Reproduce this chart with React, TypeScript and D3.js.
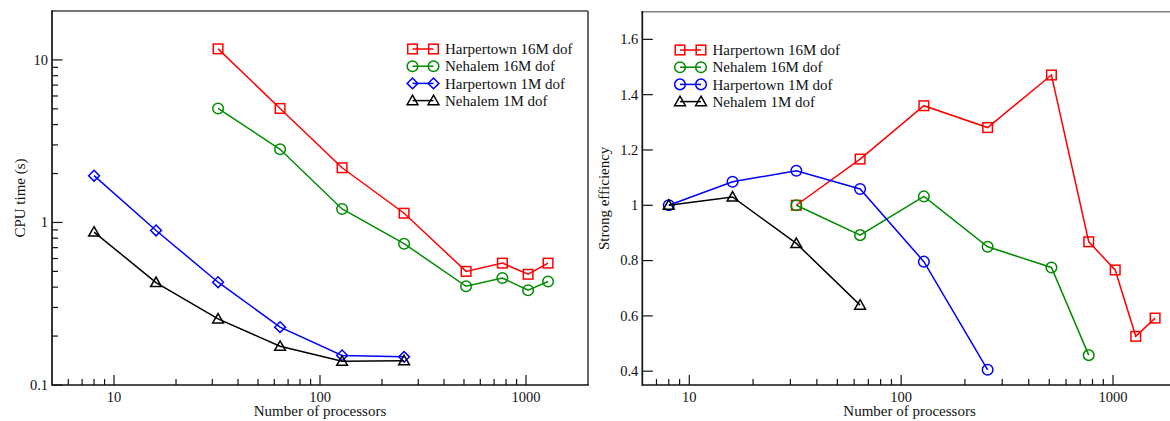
import React from "react";
import * as d3 from "d3";

// ---------- data ----------
const procs16M = [32, 64, 128, 256, 512, 768, 1024, 1280];
const timeHarp16M = [11.7, 5.03, 2.17, 1.14, 0.5, 0.562, 0.48, 0.562];
const timeNeh16M = [5.03, 2.82, 1.21, 0.74, 0.405, 0.455, 0.383, 0.433];
const procs1M = [8, 16, 32, 64, 128, 256];
const timeHarp1M = [1.94, 0.893, 0.429, 0.227, 0.152, 0.149];
const timeNeh1M = [0.873, 0.427, 0.255, 0.173, 0.14, 0.141];

const procsEffHarp16M = [32, 64, 128, 256, 512, 768, 1024, 1280, 1580];
const effHarp16M = [1.0, 1.167, 1.36, 1.281, 1.471, 0.868, 0.766, 0.526, 0.592];
const procsEffNeh16M = [32, 64, 128, 256, 512, 768];
const effNeh16M = [1.0, 0.892, 1.032, 0.85, 0.775, 0.458];
const procsEffHarp1M = [8, 16, 32, 64, 128, 256];
const effHarp1M = [1.0, 1.085, 1.125, 1.059, 0.796, 0.405];
const procsEffNeh1M = [8, 16, 32, 64];
const effNeh1M = [1.0, 1.03, 0.862, 0.639];

const seriesNames = ["Harpertown 16M dof", "Nehalem 16M dof", "Harpertown 1M dof", "Nehalem 1M dof"];
const seriesColors = ["#ff0000", "#008b00", "#0000ff", "#000000"];
const leftMarkers = ["square", "circle", "diamond", "triangle"];
const rightMarkers = ["square", "circle", "circle", "triangle"];

const xMajorTicks = [10, 100, 1000];
const leftYMajor = [0.1, 1, 10];
const leftYLabels = ["0.1", "1", "10"];
const rightYMajor = [0.4, 0.6, 0.8, 1.0, 1.2, 1.4, 1.6];
const rightYLabels = ["0.4", "0.6", "0.8", "1", "1.2", "1.4", "1.6"];

const FONT = "'Liberation Serif', 'Times New Roman', serif";

function Marker({ type, x, y, color }: { type: string; x: number; y: number; color: string }) {
  const sw = 1.5;
  if (type === "square") {
    const h = 4.8;
    return <rect x={x - h} y={y - h} width={2 * h} height={2 * h} fill="none" stroke={color} strokeWidth={sw} />;
  }
  if (type === "circle") {
    return <circle cx={x} cy={y} r={5.3} fill="none" stroke={color} strokeWidth={sw} />;
  }
  if (type === "diamond") {
    const h = 5.4;
    return (
      <path d={`M${x},${y - h}L${x + h},${y}L${x},${y + h}L${x - h},${y}Z`} fill="none" stroke={color} strokeWidth={sw} />
    );
  }
  const h = 5.4;
  return (
    <path
      d={`M${x},${y - h}L${x + h},${y + h * 0.75}L${x - h},${y + h * 0.75}Z`}
      fill="none"
      stroke={color}
      strokeWidth={sw}
    />
  );
}

function minorLogTicks(lo: number, hi: number) {
  const out: number[] = [];
  for (let dec = 1; dec <= 10000; dec *= 10) {
    for (let m = 1; m <= 9; m++) {
      const v = m * dec * 0.1;
      if (v > lo * 1.0001 && v < hi * 0.9999) out.push(v);
    }
  }
  return out;
}

type Series = { xs: number[]; ys: number[]; color: string; marker: string };

function Panel({
  x0, x1, y0, y1, xScale, yScale, yMajor, yLabels, yMinor, series, yTitle, yTitleX, legendX, legendY, frameColor,
}: any) {
  const line = d3
    .line<[number, number]>()
    .x((d) => xScale(d[0]))
    .y((d) => yScale(d[1]));
  const [xlo, xhi] = xScale.domain();
  const xMinor = minorLogTicks(xlo, xhi).filter((v: number) => !xMajorTicks.includes(v));
  const clipId = `clip${Math.round(x0)}`;
  return (
    <g>
      <defs>
        <clipPath id={clipId}>
          <rect x={x0} y={y0} width={x1 - x0} height={y1 - y0} />
        </clipPath>
      </defs>
      {/* frame */}
      <line x1={x0} y1={y0} x2={x1} y2={y0} stroke={frameColor} strokeWidth={1.6} />
      <line x1={x1} y1={y0} x2={x1} y2={y1} stroke={frameColor} strokeWidth={1.6} />
      <line x1={x0} y1={y1} x2={x1 + 0.8} y2={y1} stroke="#111" strokeWidth={1.7} />
      <line x1={x0} y1={y0 - 0.8} x2={x0} y2={y1 + 0.8} stroke="#111" strokeWidth={1.7} />
      {/* x ticks */}
      {xMajorTicks.map((t) => (
        <g key={"xm" + t}>
          <line x1={xScale(t)} x2={xScale(t)} y1={y1} y2={y1 - 10} stroke="#111" strokeWidth={1.2} />
          <text x={xScale(t)} y={y1 + 16.5} textAnchor="middle" fontFamily={FONT} fontSize={14.5} fill="#111">
            {t}
          </text>
        </g>
      ))}
      {xMinor.map((t: number) => (
        <line key={"xn" + t} x1={xScale(t)} x2={xScale(t)} y1={y1} y2={y1 - 6} stroke="#111" strokeWidth={1.2} />
      ))}
      {/* y ticks */}
      {yMajor.map((t: number, i: number) => (
        <g key={"ym" + t}>
          <line x1={x0} x2={x0 + 10.5} y1={yScale(t)} y2={yScale(t)} stroke="#111" strokeWidth={1.2} />
          <text
            x={x0 - 4}
            y={yScale(t)}
            dy="0.34em"
            textAnchor="end"
            fontFamily={FONT}
            fontSize={14.5}
            fill="#111"
          >
            {yLabels[i]}
          </text>
        </g>
      ))}
      {yMinor.map((t: number) => (
        <line key={"yn" + t} x1={x0} x2={x0 + 6} y1={yScale(t)} y2={yScale(t)} stroke="#111" strokeWidth={1.2} />
      ))}
      {/* titles */}
      <text
        x={(x0 + Math.min(x1, 1177)) / 2}
        y={416}
        textAnchor="middle"
        fontFamily={FONT}
        fontSize={15}
        fill="#111"
      >
        Number of processors
      </text>
      <text
        transform={`translate(${yTitleX},${(y0 + y1) / 2}) rotate(-90)`}
        textAnchor="middle"
        dy="0.33em"
        fontFamily={FONT}
        fontSize={15}
        fill="#111"
      >
        {yTitle}
      </text>
      {/* series */}
      <g clipPath={`url(#${clipId})`}>
        {series.map((s: Series, i: number) => {
          const pts = s.xs.map((x, j) => [x, s.ys[j]] as [number, number]);
          return (
            <g key={"s" + i}>
              <path d={line(pts) || ""} fill="none" stroke={s.color} strokeWidth={1.5} />
              {pts.map((p, j) => (
                <Marker key={j} type={s.marker} x={xScale(p[0])} y={yScale(p[1])} color={s.color} />
              ))}
            </g>
          );
        })}
      </g>
      {/* legend */}
      {series.map((s: Series, i: number) => {
        const ly = legendY + i * 17.2;
        return (
          <g key={"l" + i}>
            <line x1={legendX} x2={legendX + 21} y1={ly} y2={ly} stroke={s.color} strokeWidth={1.5} />
            <Marker type={s.marker} x={legendX} y={ly} color={s.color} />
            <Marker type={s.marker} x={legendX + 21} y={ly} color={s.color} />
            <text x={legendX + 32.5} y={ly} dy="0.34em" fontFamily={FONT} fontSize={15} fill="#111">
              {seriesNames[i]}
            </text>
          </g>
        );
      })}
    </g>
  );
}

export default function App() {
  const xL = d3.scaleLog().domain([5, 2000]).range([52, 588]);
  const yL = d3.scaleLog().domain([0.1, 20]).range([385, 11]);
  const xR = d3.scaleLog().domain([6, 2000]).range([642.3, 1176.8]);
  const yR = d3.scaleLinear().domain([0.35, 1.7]).range([385, 11.7]);

  const leftYMinor = minorLogTicks(0.1, 20).filter((v) => !leftYMajor.some((m) => Math.abs(m - v) < 1e-9));

  const leftSeries: Series[] = [
    { xs: procs16M, ys: timeHarp16M, color: seriesColors[0], marker: leftMarkers[0] },
    { xs: procs16M, ys: timeNeh16M, color: seriesColors[1], marker: leftMarkers[1] },
    { xs: procs1M, ys: timeHarp1M, color: seriesColors[2], marker: leftMarkers[2] },
    { xs: procs1M, ys: timeNeh1M, color: seriesColors[3], marker: leftMarkers[3] },
  ];
  const rightSeries: Series[] = [
    { xs: procsEffHarp16M, ys: effHarp16M, color: seriesColors[0], marker: rightMarkers[0] },
    { xs: procsEffNeh16M, ys: effNeh16M, color: seriesColors[1], marker: rightMarkers[1] },
    { xs: procsEffHarp1M, ys: effHarp1M, color: seriesColors[2], marker: rightMarkers[2] },
    { xs: procsEffNeh1M, ys: effNeh1M, color: seriesColors[3], marker: rightMarkers[3] },
  ];

  return (
    <svg
      width={1170}
      height={421}
      style={{ position: "absolute", left: 0, top: 0, background: "#fff" }}
    >
      <rect x={0} y={0} width={1170} height={421} fill="#fff" />
      <Panel
        x0={52}
        x1={588}
        y0={11}
        y1={385}
        xScale={xL}
        yScale={yL}
        yMajor={leftYMajor}
        yLabels={leftYLabels}
        yMinor={leftYMinor}
        series={leftSeries}
        yTitle="CPU time (s)"
        yTitleX={20}
        legendX={412.5}
        legendY={49}
        frameColor="#444"
      />
      <Panel
        x0={642.3}
        x1={1176.8}
        y0={11.7}
        y1={385}
        xScale={xR}
        yScale={yR}
        yMajor={rightYMajor}
        yLabels={rightYLabels}
        yMinor={[]}
        series={rightSeries}
        yTitle="Strong efficiency"
        yTitleX={604.5}
        legendX={680}
        legendY={50}
        frameColor="#808080"
      />
    </svg>
  );
}
